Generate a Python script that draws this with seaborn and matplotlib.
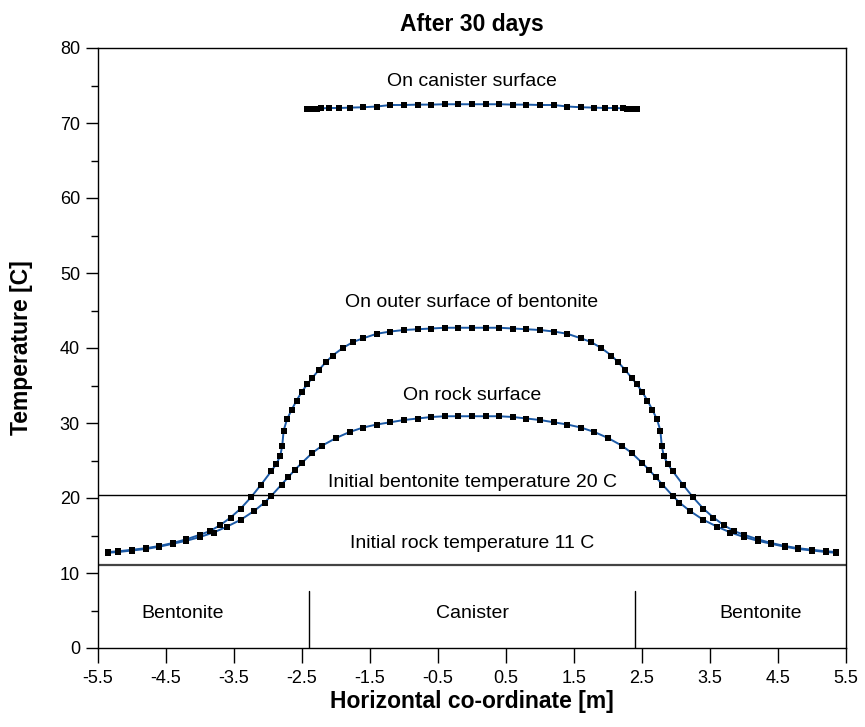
import numpy as np
import pandas as pd
import matplotlib
matplotlib.use("Agg")
import matplotlib.pyplot as plt
import seaborn as sns

sns.set_theme(style="white")
plt.rcParams['font.family'] = ['Liberation Sans', 'DejaVu Sans']
plt.rcParams['text.color'] = 'black'
plt.rcParams['axes.labelcolor'] = 'black'
plt.rcParams['xtick.color'] = 'black'
plt.rcParams['ytick.color'] = 'black'

# ---- data ----
canister_x = [-2.43, -2.38, -2.33, -2.28, -2.22, -2.1, -1.95, -1.8, -1.6, -1.4, -1.2, -1.0, -0.8, -0.6,
              -0.4, -0.2, 0.0, 0.2, 0.4, 0.6, 0.8, 1.0, 1.2, 1.4, 1.6, 1.8, 1.95, 2.1, 2.22, 2.28, 2.33, 2.38, 2.43]
canister_y = [71.9, 71.9, 71.9, 71.9, 71.95, 72.0, 72.0, 72.05, 72.1, 72.2, 72.4, 72.4, 72.45, 72.45,
              72.5, 72.5, 72.5, 72.5, 72.5, 72.45, 72.45, 72.4, 72.4, 72.2, 72.1, 72.05, 72.0, 72.0, 71.95, 71.9, 71.9, 71.9, 71.9]

bentonite_x = [-5.35, -5.2, -5.0, -4.8, -4.6, -4.4, -4.2, -4.0, -3.85, -3.7, -3.55, -3.4, -3.25, -3.1,
               -2.95, -2.88, -2.82, -2.79, -2.77, -2.72, -2.65, -2.58, -2.5, -2.42, -2.35, -2.25, -2.15,
               -2.05, -1.9, -1.75, -1.6, -1.4, -1.2, -1.0, -0.8, -0.6, -0.4, -0.2, 0.0,
               0.2, 0.4, 0.6, 0.8, 1.0, 1.2, 1.4, 1.6, 1.75, 1.9, 2.05, 2.15, 2.25, 2.35, 2.42, 2.5,
               2.58, 2.65, 2.72, 2.77, 2.79, 2.82, 2.88, 2.95, 3.1, 3.25, 3.4, 3.55, 3.7, 3.85, 4.0,
               4.2, 4.4, 4.6, 4.8, 5.0, 5.2, 5.35]
bentonite_y = [12.8, 12.9, 13.1, 13.3, 13.6, 14.0, 14.5, 15.1, 15.6, 16.4, 17.4, 18.6, 20.1, 21.8,
               23.6, 24.5, 25.6, 27.0, 29.0, 30.5, 31.8, 33.0, 34.2, 35.2, 36.0, 37.1, 38.1,
               39.0, 40.0, 40.8, 41.3, 41.9, 42.2, 42.4, 42.5, 42.6, 42.7, 42.7, 42.7,
               42.7, 42.7, 42.6, 42.5, 42.4, 42.2, 41.9, 41.3, 40.8, 40.0, 39.0, 38.1, 37.1, 36.0, 35.2, 34.2,
               33.0, 31.8, 30.5, 29.0, 27.0, 25.6, 24.5, 23.6, 21.8, 20.1, 18.6, 17.4, 16.4, 15.6, 15.1,
               14.5, 14.0, 13.6, 13.3, 13.1, 12.9, 12.8]

rock_x = [-5.35, -5.2, -5.0, -4.8, -4.6, -4.4, -4.2, -4.0, -3.8, -3.6, -3.4, -3.2, -3.05, -2.95,
          -2.8, -2.7, -2.6, -2.5, -2.35, -2.2, -2.0, -1.8, -1.6, -1.4, -1.2, -1.0, -0.8, -0.6, -0.4, -0.2, 0.0,
          0.2, 0.4, 0.6, 0.8, 1.0, 1.2, 1.4, 1.6, 1.8, 2.0, 2.2, 2.35, 2.5, 2.6, 2.7, 2.8,
          2.95, 3.05, 3.2, 3.4, 3.6, 3.8, 4.0, 4.2, 4.4, 4.6, 4.8, 5.0, 5.2, 5.35]
rock_y = [12.7, 12.8, 13.0, 13.2, 13.5, 13.9, 14.3, 14.8, 15.4, 16.2, 17.1, 18.3, 19.4, 20.3,
          21.8, 22.8, 23.8, 24.7, 26.0, 27.0, 28.0, 28.8, 29.4, 29.8, 30.1, 30.4, 30.6, 30.8, 30.9, 30.9, 30.9,
          30.9, 30.9, 30.8, 30.6, 30.4, 30.1, 29.8, 29.4, 28.8, 28.0, 27.0, 26.0, 24.7, 23.8, 22.8, 21.8,
          20.3, 19.4, 18.3, 17.1, 16.2, 15.4, 14.8, 14.3, 13.9, 13.5, 13.2, 13.0, 12.8, 12.7]

initial_bentonite = 20.4
initial_rock = 11.1
canister_edges = [-2.4, 2.4]
region_labels = ["Bentonite", "Canister", "Bentonite"]
region_label_x = [-4.25, 0.0, 4.25]

x_ticks = [-5.5, -4.5, -3.5, -2.5, -1.5, -0.5, 0.5, 1.5, 2.5, 3.5, 4.5, 5.5]
y_ticks = [0, 10, 20, 30, 40, 50, 60, 70, 80]

# ---- figure ----
fig = plt.figure(figsize=(8.65, 7.27), dpi=100)
ax = fig.add_axes([98/865, 1-648/727, (846-98)/865, (648-48)/727])

line_color = "#1c5aa6"
for xs, ys in [(canister_x, canister_y), (bentonite_x, bentonite_y), (rock_x, rock_y)]:
    df = pd.DataFrame({"x": xs, "y": ys})
    sns.lineplot(data=df, x="x", y="y", ax=ax, color=line_color, lw=1.4, sort=False,
                 estimator=None)
    sns.scatterplot(data=df, x="x", y="y", ax=ax, color="black", marker="s", s=16,
                    linewidth=0, zorder=3)

ax.axhline(initial_bentonite, color="black", lw=1.0)
ax.axhline(initial_rock, color="#444444", lw=1.6)
for xe in canister_edges:
    ax.plot([xe, xe], [0, 7.6], color="black", lw=1.0)

fs = 14
for lab, xl in zip(region_labels, region_label_x):
    ax.text(xl, 4.6, lab, ha="center", va="center", fontsize=fs)

ax.text(0.0, 75.6, "On canister surface", ha="center", va="center", fontsize=fs)
ax.text(0.0, 46.1, "On outer surface of bentonite", ha="center", va="center", fontsize=fs)
ax.text(0.0, 33.7, "On rock surface", ha="center", va="center", fontsize=fs)
ax.text(0.0, 22.1, "Initial bentonite temperature 20 C", ha="center", va="center", fontsize=fs)
ax.text(0.0, 13.9, "Initial rock temperature 11 C", ha="center", va="center", fontsize=fs)

ax.set_xlim(-5.5, 5.5)
ax.set_ylim(0, 80)
ax.set_xticks(x_ticks)
ax.set_xticklabels([f"{v:g}" for v in x_ticks])
ax.set_yticks(y_ticks)
ax.set_yticks([5, 15, 25, 35, 45, 55, 65, 75], minor=True)
ax.tick_params(axis="x", which="major", direction="out", length=11, width=1, labelsize=13,
               bottom=True, pad=5, colors="black")
ax.tick_params(axis="y", which="major", direction="out", length=9, width=1, labelsize=13,
               left=True, pad=4, colors="black")
ax.tick_params(axis="y", which="minor", direction="out", length=5, width=1, left=True, colors="black")
for s in ax.spines.values():
    s.set_color("black")
    s.set_linewidth(1.0)

ax.set_xlabel("Horizontal co-ordinate [m]", fontsize=16.5, fontweight="bold", labelpad=2)
ax.set_ylabel("Temperature [C]", fontsize=16.5, fontweight="bold", labelpad=19)
ax.set_title("After 30 days", fontsize=16.5, fontweight="bold", pad=12)

fig.savefig("out.png", dpi=100)
